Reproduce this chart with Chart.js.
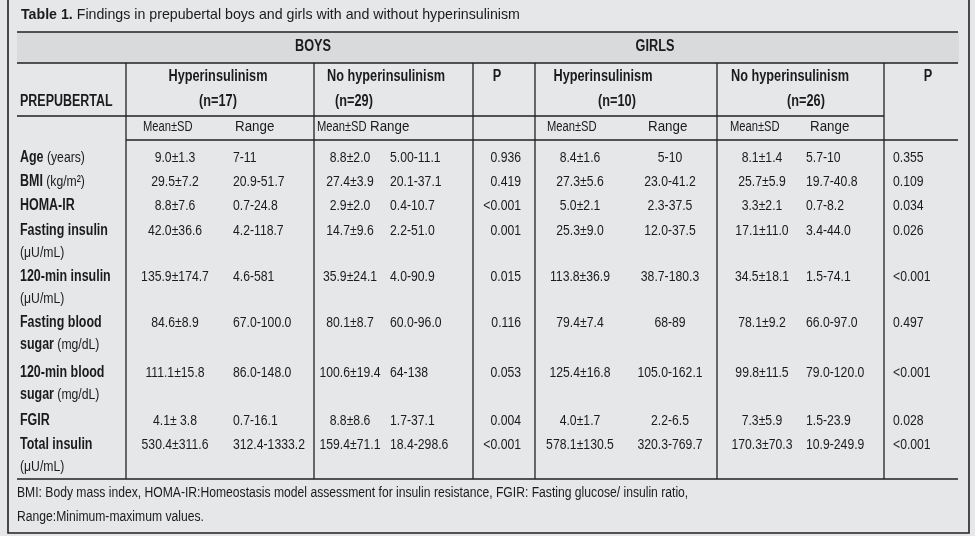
<!DOCTYPE html>
<html lang="en">
<head>
    <meta charset="UTF-8">
    <title>Table 1. Findings in prepubertal boys and girls</title>
    <script src="https://cdn.jsdelivr.net/npm/chart.js"></script>
    <style>
        body { margin: 0; background: #e6e7e9; }
    </style>
</head>
<body>
    <canvas id="tableChart" width="975" height="536"></canvas>

    <script>
        // table texts
        const titleBold = 'Table 1.';
        const titleText = ' Findings in prepubertal boys and girls with and without hyperinsulinism';
        const groupLabels = ['BOYS', 'GIRLS'];
        const subLabels = ['Hyperinsulinism', 'No hyperinsulinism', 'P', 'Hyperinsulinism', 'No hyperinsulinism', 'P'];
        const nLabels = ['(n=17)', '(n=29)', '(n=10)', '(n=26)'];
        const meanLabels = ['Mean±SD', 'Mean±SD', 'Mean±SD', 'Mean±SD'];
        const rangeLabels = ['Range', 'Range', 'Range', 'Range'];
        const cornerLabel = 'PREPUBERTAL';

        // row labels: [bold part, normal part]
        const rowLabel1 = [['Age', ' (years)'], ['BMI', ' (kg/m²)'], ['HOMA-IR', ''], ['Fasting insulin', ''],
            ['120-min insulin', ''], ['Fasting blood', ''], ['120-min blood', ''], ['FGIR', ''], ['Total insulin', '']];
        const rowLabel2 = [null, null, null, ['', '(μU/mL)'], ['', '(μU/mL)'], ['sugar', ' (mg/dL)'],
            ['sugar', ' (mg/dL)'], null, ['', '(μU/mL)']];

        // values
        const boysHyperMean = ['9.0±1.3', '29.5±7.2', '8.8±7.6', '42.0±36.6', '135.9±174.7', '84.6±8.9', '111.1±15.8', '4.1± 3.8', '530.4±311.6'];
        const boysHyperRange = ['7-11', '20.9-51.7', '0.7-24.8', '4.2-118.7', '4.6-581', '67.0-100.0', '86.0-148.0', '0.7-16.1', '312.4-1333.2'];
        const boysNoMean = ['8.8±2.0', '27.4±3.9', '2.9±2.0', '14.7±9.6', '35.9±24.1', '80.1±8.7', '100.6±19.4', '8.8±8.6', '159.4±71.1'];
        const boysNoRange = ['5.00-11.1', '20.1-37.1', '0.4-10.7', '2.2-51.0', '4.0-90.9', '60.0-96.0', '64-138', '1.7-37.1', '18.4-298.6'];
        const boysP = ['0.936', '0.419', '<0.001', '0.001', '0.015', '0.116', '0.053', '0.004', '<0.001'];
        const girlsHyperMean = ['8.4±1.6', '27.3±5.6', '5.0±2.1', '25.3±9.0', '113.8±36.9', '79.4±7.4', '125.4±16.8', '4.0±1.7', '578.1±130.5'];
        const girlsHyperRange = ['5-10', '23.0-41.2', '2.3-37.5', '12.0-37.5', '38.7-180.3', '68-89', '105.0-162.1', '2.2-6.5', '320.3-769.7'];
        const girlsNoMean = ['8.1±1.4', '25.7±5.9', '3.3±2.1', '17.1±11.0', '34.5±18.1', '78.1±9.2', '99.8±11.5', '7.3±5.9', '170.3±70.3'];
        const girlsNoRange = ['5.7-10', '19.7-40.8', '0.7-8.2', '3.4-44.0', '1.5-74.1', '66.0-97.0', '79.0-120.0', '1.5-23.9', '10.9-249.9'];
        const girlsP = ['0.355', '0.109', '0.034', '0.026', '<0.001', '0.497', '<0.001', '0.028', '<0.001'];

        const footnotes = ['BMI: Body mass index, HOMA-IR:Homeostasis model assessment for insulin resistance, FGIR: Fasting glucose/ insulin ratio,',
            'Range:Minimum-maximum values.'];

        // layout (in page pixels, mapped through the chart scales)
        const valueColumns = [boysHyperMean, boysHyperRange, boysNoMean, boysNoRange, boysP,
            girlsHyperMean, girlsHyperRange, girlsNoMean, girlsNoRange, girlsP];
        const colX = [175, 233, 350, 390, 521, 580, 670, 762, 806, 893];
        const colAlign = ['center', 'left', 'center', 'left', 'right', 'center', 'center', 'center', 'left', 'left'];
        const rowY = [158, 182, 206, 231, 277, 323, 373, 421, 445];
        const lineGap = 22;

        // condensed font, or a squeezed regular one if narrow is missing
        function hasFont(name) {
            const c = document.createElement('canvas').getContext('2d');
            c.font = '20px monospace';
            const w0 = c.measureText('abcdefghijklmnopq').width;
            c.font = '20px "' + name + '", monospace';
            return c.measureText('abcdefghijklmnopq').width !== w0;
        }
        const narrow = hasFont('Liberation Sans Narrow');
        const FAMILY = narrow ? '"Liberation Sans Narrow"' : '"Liberation Sans"';
        const K = narrow ? 1 : 0.82;
        const SX = 0.96 * K;      // regular
        const SXB = 0.97 * K;     // bold
        const INK = '#1b1b1d';
        const REG = '15.5px ' + FAMILY;
        const BOLD = 'bold 16px ' + FAMILY;

        function drawText(ctx, text, x, y, f, align, sx) {
            ctx.save();
            ctx.translate(x, y);
            ctx.scale(sx, 1);
            ctx.font = f;
            ctx.textAlign = align || 'left';
            ctx.textBaseline = 'middle';
            ctx.fillStyle = INK;
            ctx.fillText(text, 0, 0);
            ctx.restore();
        }

        // left-aligned runs of [text, font, scaleX]
        function drawRuns(ctx, runs, x, y) {
            let cx = x;
            runs.forEach(r => {
                if (!r[0]) return;
                drawText(ctx, r[0], cx, y, r[1], 'left', r[2]);
                ctx.font = r[1];
                cx += ctx.measureText(r[0]).width * r[2];
            });
        }

        // build text datasets: every cell is a point of a scatter dataset
        function textSet(labels, xs, ys, align, f, sx) {
            return {
                data: labels.map((t, i) => ({ x: xs[i], y: ys[i], label: t })),
                textAlign: align,
                textFont: f,
                textScale: sx,
                pointRadius: 0,
                pointHoverRadius: 0
            };
        }

        const datasets = [];
        valueColumns.forEach((col, c) => {
            datasets.push(textSet(col, col.map(() => colX[c]), rowY, colAlign[c], REG, SX));
        });
        datasets.push(textSet(groupLabels, [313, 655], [47, 47], 'center', BOLD, SXB));
        datasets.push(textSet(subLabels, [218, 386, 497, 603, 790, 928], subLabels.map(() => 77), 'center', BOLD, SXB));
        datasets.push(textSet(nLabels, [218, 354, 617, 806], nLabels.map(() => 102), 'center', BOLD, SXB));
        datasets.push(textSet([cornerLabel], [20], [102], 'left', BOLD, 0.95 * K));
        datasets.push(textSet(meanLabels, [143, 317, 547, 730], meanLabels.map(() => 127), 'left', REG, 0.88 * K));
        datasets.push(textSet(rangeLabels, [235, 370, 648, 810], rangeLabels.map(() => 127), 'left', REG, 1.05 * K));
        datasets.push(textSet(footnotes, [17, 17], [493, 517], 'left', REG, 0.955 * K));

        const hLines = [[32, 17, 958], [63, 17, 958], [116, 17, 884], [140, 126, 958], [479, 17, 958]];
        const vLines = [[126, 63, 479], [314, 63, 479], [473, 63, 479], [535, 63, 479], [717, 63, 479], [884, 63, 479]];

        const tablePlugin = {
            id: 'tablePlugin',
            beforeDraw(chart) {
                const ctx = chart.ctx, X = v => chart.scales.x.getPixelForValue(v), Y = v => chart.scales.y.getPixelForValue(v);
                ctx.save();
                ctx.fillStyle = '#e6e7e9';
                ctx.fillRect(0, 0, chart.width, chart.height);
                // header band
                ctx.fillStyle = '#d9dadc';
                ctx.fillRect(X(17), Y(32), X(959) - X(17), Y(63) - Y(32));
                // table rules
                ctx.strokeStyle = '#222224';
                ctx.lineWidth = 1.3;
                ctx.beginPath();
                hLines.forEach(l => { ctx.moveTo(X(l[1]), Y(l[0])); ctx.lineTo(X(l[2]), Y(l[0])); });
                vLines.forEach(l => { ctx.moveTo(X(l[0]), Y(l[1])); ctx.lineTo(X(l[0]), Y(l[2])); });
                ctx.stroke();
                // frame
                ctx.lineWidth = 1.6;
                ctx.beginPath();
                ctx.moveTo(X(8), Y(0)); ctx.lineTo(X(8), Y(533)); ctx.lineTo(X(969), Y(533)); ctx.lineTo(X(969), Y(0));
                ctx.stroke();
                ctx.restore();
            },
            afterDatasetsDraw(chart) {
                const ctx = chart.ctx, X = v => chart.scales.x.getPixelForValue(v), Y = v => chart.scales.y.getPixelForValue(v);
                chart.data.datasets.forEach((ds, i) => {
                    chart.getDatasetMeta(i).data.forEach((pt, j) => {
                        drawText(ctx, ds.data[j].label, pt.x, pt.y, ds.textFont, ds.textAlign, ds.textScale);
                    });
                });
                // title
                drawRuns(ctx, [[titleBold, 'bold 14.2px "Liberation Sans"', 1], [titleText, '14.2px "Liberation Sans"', 1]], X(21), Y(15));
                // row labels with bold names and plain units
                rowLabel1.forEach((r, i) => {
                    drawRuns(ctx, [[r[0], BOLD, 0.95 * K], [r[1], REG, SX]], X(20), Y(rowY[i]));
                    const r2 = rowLabel2[i];
                    if (r2) drawRuns(ctx, [[r2[0], BOLD, 0.95 * K], [r2[1], REG, SX]], X(20), Y(rowY[i] + lineGap));
                });
            }
        };

        new Chart(document.getElementById('tableChart'), {
            type: 'scatter',
            data: { datasets: datasets },
            options: {
                responsive: false,
                animation: false,
                devicePixelRatio: 1,
                layout: { padding: 0 },
                events: [],
                plugins: { legend: { display: false }, tooltip: { enabled: false } },
                scales: {
                    x: { type: 'linear', min: 0, max: 975, display: false },
                    y: { type: 'linear', min: 0, max: 536, reverse: true, display: false }
                }
            },
            plugins: [tablePlugin]
        });
    </script>
</body>
</html>
